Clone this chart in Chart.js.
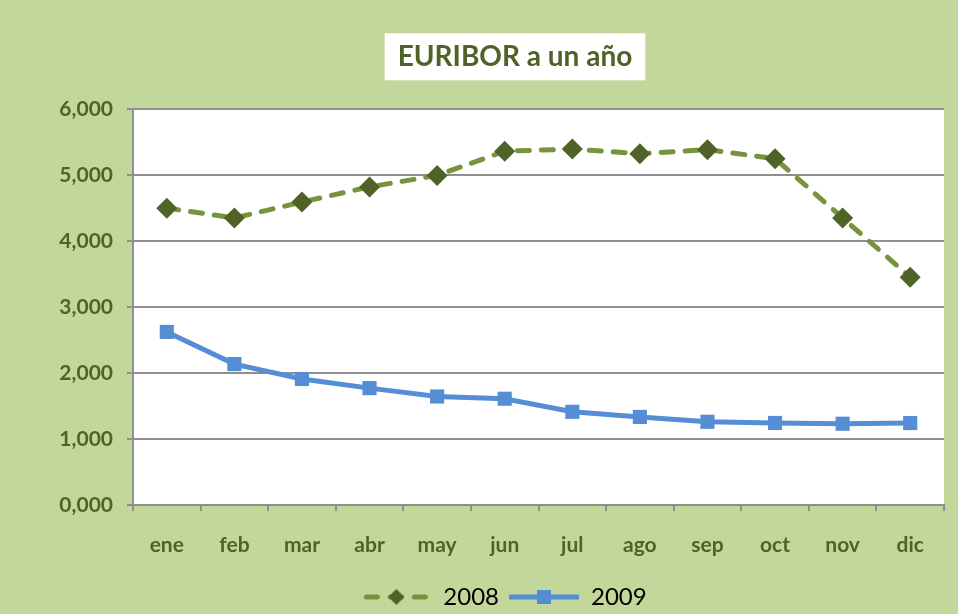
<!DOCTYPE html>
<html>
<head>
<meta charset="utf-8">
<script src="https://cdn.jsdelivr.net/npm/chart.js@4.4.1/dist/chart.umd.min.js"></script>
<style>
  html, body { margin: 0; padding: 0; background: #c4d79b; }
  #grafico { display: block; }
</style>
</head>
<body>
<canvas id="grafico" width="958" height="614"></canvas>
<script>
// Datos
const meses = ['ene', 'feb', 'mar', 'abr', 'may', 'jun', 'jul', 'ago', 'sep', 'oct', 'nov', 'dic'];
const euribor2008 = [4.498, 4.349, 4.590, 4.820, 4.994, 5.361, 5.393, 5.323, 5.384, 5.248, 4.350, 3.452];
const euribor2009 = [2.622, 2.135, 1.909, 1.771, 1.644, 1.610, 1.412, 1.334, 1.261, 1.243, 1.231, 1.242];
const ejeY = { min: 0, max: 6, paso: 1 };

const VERDE_FONDO = '#c4d79b';
const VERDE_TEXTO = '#4f6228';
const VERDE_LINEA = '#77933c';
const AZUL = '#558ed5';
const GRIS = '#8f8f8f';

// Iconos de la leyenda (linea + marcador)
function iconoLeyenda(tipo) {
  const c = document.createElement('canvas');
  const ctx = c.getContext('2d');
  if (tipo === 'rombo') {
    c.width = 68; c.height = 22;
    ctx.strokeStyle = VERDE_LINEA;
    ctx.lineWidth = 5;
    ctx.lineCap = 'round';
    ctx.setLineDash([11, 13]);
    ctx.beginPath(); ctx.moveTo(4, 11); ctx.lineTo(66, 11); ctx.stroke();
    ctx.fillStyle = VERDE_TEXTO;
    ctx.beginPath();
    ctx.moveTo(34, 3); ctx.lineTo(42, 11); ctx.lineTo(34, 19); ctx.lineTo(26, 11);
    ctx.closePath(); ctx.fill();
  } else {
    c.width = 74; c.height = 22;
    ctx.strokeStyle = AZUL;
    ctx.lineWidth = 5;
    ctx.beginPath(); ctx.moveTo(2, 11); ctx.lineTo(72, 11); ctx.stroke();
    ctx.fillStyle = AZUL;
    ctx.fillRect(30, 4, 14, 14);
  }
  return c;
}
const iconos = [iconoLeyenda('rombo'), iconoLeyenda('cuadrado')];

// Fondo verde, area blanca y caja del titulo
const fondo = {
  id: 'fondo',
  afterLayout(chart) {
    // titulo y leyenda van algo desplazados a la derecha, como en el original
    chart.titleBlock.left += 43;
    chart.titleBlock.right += 43;
    chart.legend.left += 32;
    chart.legend.right += 32;
  },
  beforeDraw(chart) {
    const { ctx, chartArea: a, titleBlock: t } = chart;
    ctx.save();
    ctx.fillStyle = VERDE_FONDO;
    ctx.fillRect(0, 0, chart.width, chart.height);
    ctx.fillStyle = '#ffffff';
    ctx.fillRect(a.left, a.top, a.right - a.left, a.bottom - a.top);
    // caja del titulo
    const op = chart.options.plugins.title;
    ctx.font = `bold ${op.font.size}px ${op.font.family}`;
    const ancho = ctx.measureText(op.text).width + 26;
    const cx = (t.left + t.right) / 2;
    const cy = t.top + op.padding.top + op.font.size * 1.2 / 2;
    ctx.fillRect(cx - ancho / 2, cy - 23.5, ancho, 47);
    ctx.restore();
  }
};

new Chart(document.getElementById('grafico'), {
  type: 'line',
  data: {
    labels: meses,
    datasets: [
      {
        label: '2008',
        data: euribor2008,
        borderColor: VERDE_LINEA,
        borderWidth: 5,
        borderDash: [12, 12],
        borderCapStyle: 'round',
        pointStyle: 'rectRot',
        pointRadius: 10.5,
        pointHoverRadius: 10.5,
        pointBackgroundColor: VERDE_TEXTO,
        pointBorderColor: VERDE_TEXTO,
        pointBorderWidth: 0,
        tension: 0
      },
      {
        label: '2009',
        data: euribor2009,
        borderColor: AZUL,
        borderWidth: 5,
        pointStyle: 'rect',
        pointRadius: 10,
        pointHoverRadius: 10,
        pointBackgroundColor: AZUL,
        pointBorderColor: AZUL,
        pointBorderWidth: 0,
        tension: 0
      }
    ]
  },
  options: {
    responsive: false,
    animation: false,
    layout: { padding: { left: 0, right: 14, top: 0, bottom: -5 } },
    plugins: {
      tooltip: { enabled: false },
      title: {
        display: true,
        text: 'EURIBOR a un año',
        color: VERDE_TEXTO,
        font: { family: 'Lato', size: 28, weight: 'bold', lineHeight: 1.2 },
        padding: { top: 40, bottom: 35.4 }
      },
      legend: {
        position: 'bottom',
        labels: {
          color: '#000000',
          font: { family: 'Lato', size: 24 },
          usePointStyle: true,
          pointStyleWidth: 70,
          padding: 10,
          generateLabels(chart) {
            const items = Chart.defaults.plugins.legend.labels.generateLabels(chart);
            items.forEach((it, i) => { it.pointStyle = iconos[i]; });
            return items;
          }
        }
      }
    },
    scales: {
      x: {
        offset: true,
        grid: { display: true, drawOnChartArea: false, drawTicks: true, tickLength: 6, offset: true, color: GRIS, lineWidth: 2 },
        border: { color: GRIS, width: 2 },
        ticks: { color: VERDE_TEXTO, font: { family: 'Lato', size: 21, weight: 'bold' }, padding: 22 },
        afterFit(scale) { scale.height = 70; }
      },
      y: {
        min: ejeY.min,
        max: ejeY.max,
        grid: { color: GRIS, lineWidth: 2, tickLength: 6 },
        border: { color: GRIS, width: 2 },
        ticks: {
          stepSize: ejeY.paso,
          color: VERDE_TEXTO,
          font: { family: 'Lato', size: 21, weight: 'bold' },
          padding: 14,
          callback: v => v.toFixed(3).replace('.', ',')
        },
        afterFit(scale) { scale.width = 133; }
      }
    }
  },
  plugins: [fondo]
});
</script>
</body>
</html>
